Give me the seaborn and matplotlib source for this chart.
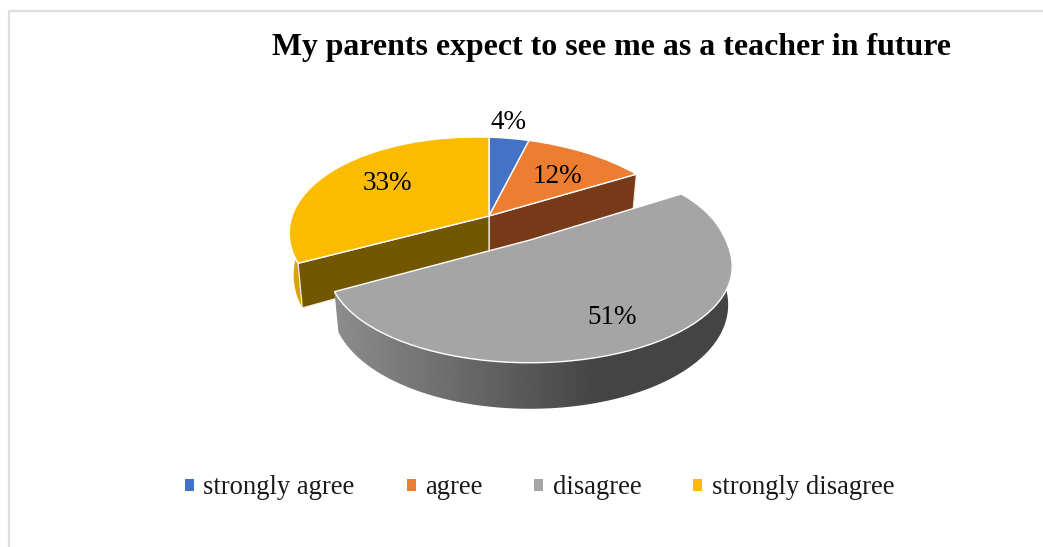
import numpy as np
import matplotlib
matplotlib.use('Agg')
import matplotlib.pyplot as plt
from matplotlib.patches import Polygon
from matplotlib.transforms import Transform
import seaborn as sns

# 값은 그림에서 읽은 퍼센트
categories = ['strongly agree', 'agree', 'disagree', 'strongly disagree']
values = [4, 12, 51, 33]
pct_labels = ['4%', '12%', '51%', '33%']
colors = ['#4472C4', '#ED7D31', '#A5A5A5', '#FBBC00']
title = 'My parents expect to see me as a teacher in future'

sns.set_theme(style='white')
plt.rcParams['font.family'] = ['Liberation Serif', 'DejaVu Serif']

# 원근 투영 설정 (픽셀 좌표 기준)
RX, RY, DEPTH, PERSP, SHRINK = 195, 96, 36, 0.218, 0.02
MAIN = {'x': 489, 'y': 216, 'tilt': 5, 'widen': 0.0, 'z': 1.11}
GRAY = {'x': 530, 'y': 240, 'tilt': 0, 'widen': 0.05, 'z': 1.0}
LABEL_R = [1.26, 0.62, 0.771, 0.65]
LABEL_TURN = [-1.4, 3, 4, 0]  # degrees


def project(u, v, z, c):
    w = 1 + PERSP * v
    x = c['x'] + RX * u * (1 + c['widen'] * np.abs(v)) / w * (1 - SHRINK * z)
    y = c['y'] - RY * v / w + DEPTH * z / w + c['tilt'] * u
    return x, y


class Perspective(Transform):
    # pie 조각을 원근으로 눌러 그리기 위한 변환
    input_dims = 2
    output_dims = 2

    def __init__(self, c):
        super().__init__()
        self.c = c

    def transform_non_affine(self, xy):
        xy = np.asarray(xy)
        x, y = project(xy[:, 0], xy[:, 1], 0, self.c)
        return np.column_stack([x, y])


fig = plt.figure(figsize=(10.43, 5.47), dpi=100)
ax = fig.add_axes([0, 0, 1, 1])

palette = sns.color_palette(colors)
wedges, _ = ax.pie(values, colors=palette, startangle=90, counterclock=False,
                   wedgeprops={'edgecolor': 'white', 'linewidth': 1.0})

# 각도 경계 (12시 방향에서 시계방향, 라디안)
edges = np.cumsum([0] + values) / sum(values) * 2 * np.pi

for i, wedge in enumerate(wedges):
    c = GRAY if i == 2 else MAIN
    wedge.set_transform(Perspective(c) + ax.transData)
    wedge.set_zorder(6 if i == 2 else 3)


def rim(angle, z, c):
    return project(np.sin(angle), np.cos(angle), z, c)


def cut_wall(angle, colour):
    x0, y0 = rim(angle, 0, MAIN)
    x1, y1 = rim(angle, MAIN['z'], MAIN)
    cx0, cy0 = project(0, 0, 0, MAIN)
    cx1, cy1 = project(0, 0, MAIN['z'], MAIN)
    ax.fill([cx0, x0, x1, cx1], [cy0, y0, y1, cy1], facecolor=colour,
            edgecolor='#f2efe6', linewidth=0.9, zorder=2)


# 노란 조각 바깥 벽
ang = np.linspace(edges[3], edges[3] + np.radians(32), 50)
tx, ty = rim(ang, 0, MAIN)
bx, by = rim(ang, MAIN['z'], MAIN)
ax.fill(np.r_[tx, bx[::-1]], np.r_[ty, by[::-1]], facecolor='#D9A300',
        edgecolor='none', zorder=1)

# 잘린 면 (주황, 노랑)
cut_wall(edges[2], '#763A18')
cut_wall(edges[3], '#735600')

# 회색 조각 바깥 벽: 왼쪽이 밝고 오른쪽으로 어두워지는 그라데이션
ang = np.linspace(edges[2] + np.radians(12), edges[3], 160)
tx, ty = rim(ang, 0, GRAY)
bx, by = rim(ang, GRAY['z'], GRAY)
wall = np.column_stack([np.r_[tx, bx[::-1]], np.r_[ty, by[::-1]]])
grad_x = np.arange(wall[:, 0].min() - 2, wall[:, 0].max() + 2)
grad = np.interp(grad_x, [330, 600, 730], [142, 68, 68]).reshape(1, -1)
img = ax.imshow(grad, cmap='gray', vmin=0, vmax=255, aspect='auto', zorder=5,
                interpolation='bilinear',
                extent=(grad_x[0], grad_x[-1], wall[:, 1].max() + 2, wall[:, 1].min() - 2))
img.set_clip_path(Polygon(wall, closed=True, transform=ax.transData))

ax.set_aspect('auto')
ax.set_xlim(0, 1043)
ax.set_ylim(547, 0)

# 퍼센트 라벨
for i, txt in enumerate(pct_labels):
    mid = (edges[i] + edges[i + 1]) / 2 + np.radians(LABEL_TURN[i])
    c = GRAY if i == 2 else MAIN
    lx, ly = project(LABEL_R[i] * np.sin(mid), LABEL_R[i] * np.cos(mid), 0, c)
    ax.text(lx, ly, txt, fontsize=19.5, color='black', ha='center', va='center', zorder=8)

ax.text(611, 47, title, fontsize=22.93, fontweight='bold', color='black',
        ha='center', va='center')

leg = ax.legend(wedges, categories, loc='center', bbox_to_anchor=(539.5, 488),
                bbox_transform=ax.transData, ncol=4, frameon=False, fontsize=19.2,
                handlelength=0.34, handleheight=0.34, handletextpad=0.34,
                columnspacing=1.96, labelcolor='#1a1a1a')
for h in leg.legend_handles:
    h.set_edgecolor('none')

# 바깥 테두리 일부
ax.plot([9, 9, 1043], [547, 10.5, 10.5], color='#dedede', lw=1.6, zorder=0)

fig.savefig('out.png', dpi=100, facecolor='white')
